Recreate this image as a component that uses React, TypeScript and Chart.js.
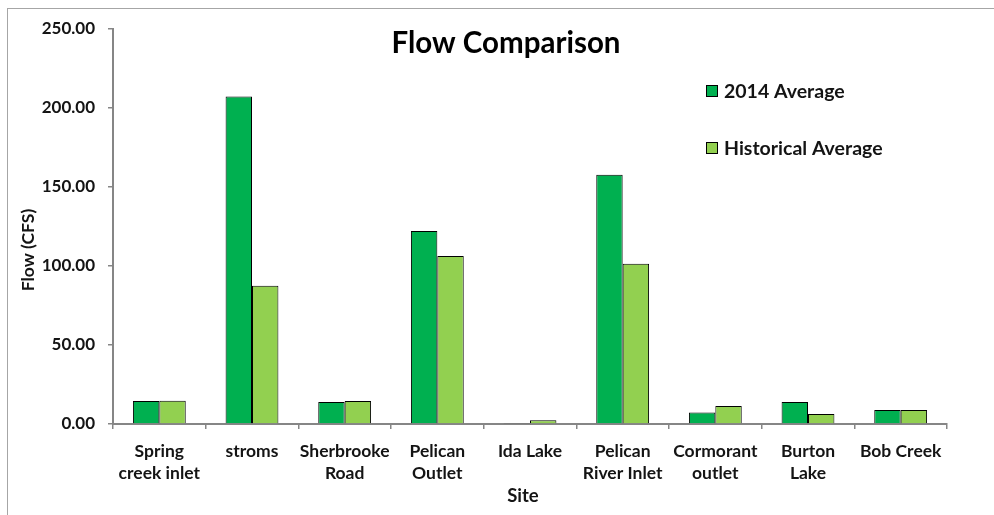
import React, { useEffect, useRef } from "react";
import { Chart, registerables } from "chart.js";

Chart.register(...registerables);

const siteLabels: string[][] = [
  ["Spring", "creek inlet"],
  ["stroms"],
  ["Sherbrooke", "Road"],
  ["Pelican", "Outlet"],
  ["Ida Lake"],
  ["Pelican", "River Inlet"],
  ["Cormorant", "outlet"],
  ["Burton", "Lake"],
  ["Bob Creek"],
];
const avg2014: number[] = [14.6, 207.2, 13.9, 122.2, 0.6, 157.8, 7.2, 13.9, 8.9];
const historicalAvg: number[] = [14.7, 87.5, 14.6, 106.3, 2.3, 101.5, 11.4, 6.3, 8.9];
const seriesNames: string[] = ["2014 Average", "Historical Average"];
const seriesColors: string[] = ["#00B050", "#92D050"];
const yTicksMax = 250;
const yTickStep = 50;
const chartTitle = "Flow Comparison";
const xAxisTitle = "Site";
const yAxisTitle = "Flow (CFS)";

const FONT = "Lato, 'Open Sans', sans-serif";
const TEXT = "#141414";
const AXIS = "#868686";

const overlayPlugin = {
  id: "overlay",
  afterDraw(chart: any) {
    const ctx = chart.ctx;
    const ca = chart.chartArea;
    ctx.save();
    // title
    ctx.fillStyle = "#000";
    ctx.font = `bold 29.5px ${FONT}`;
    ctx.textAlign = "center";
    ctx.textBaseline = "middle";
    ctx.fillText(chartTitle, ca.left + 393, ca.top + 14);
    // axis titles
    ctx.fillStyle = TEXT;
    ctx.font = `bold 18.5px ${FONT}`;
    ctx.fillText(xAxisTitle, ca.left + 410, ca.bottom + 72);
    ctx.save();
    ctx.translate(ca.left - 85, ca.top + 221);
    ctx.rotate(-Math.PI / 2);
    ctx.font = `bold 17.5px ${FONT}`;
    ctx.fillText(yAxisTitle, 0, 0);
    ctx.restore();
    // legend
    ctx.font = `bold 19.5px ${FONT}`;
    ctx.textAlign = "left";
    chart.data.datasets.forEach((ds: any, i: number) => {
      const x = ca.left + 593;
      const y = ca.top + 62 + i * 57;
      ctx.fillStyle = ds.backgroundColor;
      ctx.fillRect(x, y - 6, 12, 12);
      ctx.strokeStyle = "#000";
      ctx.lineWidth = 1;
      ctx.strokeRect(x + 0.5, y - 5.5, 11, 11);
      ctx.fillStyle = TEXT;
      ctx.fillText(ds.label, x + 18, y + 1);
    });
    ctx.restore();
  },
};

export default function App() {
  const canvasRef = useRef<HTMLCanvasElement | null>(null);

  useEffect(() => {
    if (!canvasRef.current) return;
    const chart = new Chart(canvasRef.current, {
      type: "bar",
      data: {
        labels: siteLabels,
        datasets: [
          {
            label: seriesNames[0],
            data: avg2014,
            backgroundColor: seriesColors[0],
            borderColor: "#000",
            borderWidth: 1,
          },
          {
            label: seriesNames[1],
            data: historicalAvg,
            backgroundColor: seriesColors[1],
            borderColor: "#000",
            borderWidth: 1,
          },
        ],
      },
      options: {
        responsive: false,
        animation: false,
        layout: { padding: { top: 29, right: 47, left: 0, bottom: 0 } },
        datasets: {
          bar: { categoryPercentage: 0.57, barPercentage: 1 },
        },
        plugins: {
          legend: { display: false },
          title: { display: false },
          tooltip: { enabled: false },
        },
        scales: {
          x: {
            afterFit: (s: any) => {
              s.height = 91;
            },
            grid: {
              drawOnChartArea: false,
              drawTicks: true,
              tickLength: 5,
              color: AXIS,
              lineWidth: 1.5,
              offset: true,
            },
            border: { color: AXIS, width: 2 },
            ticks: {
              color: TEXT,
              padding: 11,
              maxRotation: 0,
              autoSkip: false,
              font: { family: FONT, size: 17.5, weight: "bold", lineHeight: 22 / 17.5 },
            },
          },
          y: {
            min: 0,
            max: yTicksMax,
            afterFit: (s: any) => {
              s.width = 113;
            },
            grid: {
              drawOnChartArea: false,
              drawTicks: true,
              tickLength: 5,
              lineWidth: 1.5,
              color: AXIS,
            },
            border: { color: AXIS, width: 2 },
            ticks: {
              stepSize: yTickStep,
              color: TEXT,
              padding: 13,
              font: { family: FONT, size: 17, weight: "bold" },
              callback: (v: any) => Number(v).toFixed(2),
            },
          },
        },
      },
      plugins: [overlayPlugin],
    } as any);
    return () => chart.destroy();
  }, []);

  return (
    <div
      style={{
        position: "absolute",
        left: 0,
        top: 0,
        width: 994,
        height: 515,
        overflow: "hidden",
        background: "#fff",
      }}
    >
      <div
        style={{
          position: "absolute",
          left: 7,
          top: 8,
          width: 1100,
          height: 700,
          border: "1px solid #a6a6a6",
        }}
      />
      <canvas
        ref={canvasRef}
        width={994}
        height={515}
        style={{ position: "absolute", left: 0, top: 0, width: 994, height: 515 }}
      />
    </div>
  );
}
